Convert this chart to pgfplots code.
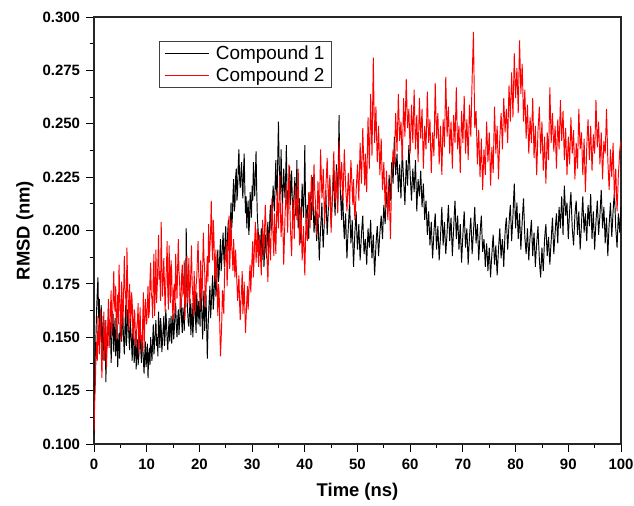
\documentclass[border=0pt]{standalone}
\usepackage{fontspec}
\setmainfont{Liberation Sans}
\usepackage{pgfplots}
\usepackage{pgfplotstable}
\pgfplotsset{compat=1.18}

\pgfplotstableread{
t c1 c2
0 0.104 0.106
0.125 0.128 0.119
0.25 0.142 0.128
0.375 0.151 0.141
0.5 0.163 0.148
0.625 0.171 0.139
0.75 0.178 0.160
0.875 0.159 0.151
1 0.168 0.142
1.125 0.149 0.157
1.25 0.158 0.163
1.375 0.165 0.144
1.5 0.141 0.131
1.625 0.152 0.146
1.75 0.160 0.152
1.875 0.139 0.162
2 0.147 0.139
2.125 0.158 0.149
2.25 0.129 0.158
2.375 0.143 0.136
2.5 0.155 0.147
2.625 0.146 0.157
2.75 0.164 0.168
2.875 0.152 0.145
3 0.149 0.151
3.125 0.157 0.163
3.25 0.138 0.172
3.375 0.147 0.152
3.5 0.156 0.158
3.625 0.161 0.168
3.75 0.143 0.181
3.875 0.151 0.166
4 0.159 0.162
4.125 0.141 0.174
4.25 0.147 0.149
4.375 0.156 0.161
4.5 0.136 0.170
4.625 0.145 0.156
4.75 0.152 0.184
4.875 0.140 0.171
5 0.161 0.160
5.125 0.153 0.148
5.25 0.148 0.176
5.375 0.162 0.167
5.5 0.157 0.155
5.625 0.149 0.171
5.75 0.142 0.188
5.875 0.155 0.173
6 0.165 0.170
6.125 0.146 0.159
6.25 0.151 0.192
6.375 0.163 0.176
6.5 0.158 0.163
6.625 0.150 0.153
6.75 0.144 0.175
6.875 0.159 0.164
7 0.153 0.157
7.125 0.147 0.171
7.25 0.139 0.167
7.375 0.155 0.152
7.5 0.150 0.149
7.625 0.138 0.163
7.75 0.144 0.161
7.875 0.153 0.147
8 0.135 0.146
8.125 0.143 0.155
8.25 0.149 0.158
8.375 0.137 0.166
8.5 0.141 0.142
8.625 0.150 0.154
8.75 0.152 0.164
8.875 0.144 0.148
9 0.138 0.151
9.125 0.151 0.143
9.25 0.146 0.159
9.375 0.139 0.171
9.5 0.133 0.145
9.625 0.142 0.155
9.75 0.148 0.168
9.875 0.136 0.161
10 0.140 0.156
10.125 0.147 0.165
10.25 0.131 0.174
10.375 0.141 0.159
10.5 0.145 0.162
10.625 0.137 0.177
10.75 0.150 0.185
10.875 0.144 0.170
11 0.139 0.168
11.125 0.148 0.159
11.25 0.156 0.179
11.375 0.142 0.189
11.5 0.147 0.160
11.625 0.153 0.172
11.75 0.158 0.191
11.875 0.146 0.166
12 0.150 0.174
12.125 0.141 0.185
12.25 0.162 0.198
12.375 0.153 0.177
12.5 0.145 0.181
12.625 0.159 0.167
12.75 0.155 0.204
12.875 0.143 0.184
13 0.148 0.169
13.125 0.154 0.178
13.25 0.160 0.187
13.375 0.146 0.174
13.5 0.151 0.162
13.625 0.163 0.175
13.75 0.157 0.183
13.875 0.149 0.195
14 0.144 0.171
14.125 0.152 0.163
14.25 0.159 0.193
14.375 0.148 0.179
14.5 0.153 0.166
14.625 0.160 0.186
14.75 0.147 0.180
14.875 0.156 0.165
15 0.161 0.158
15.125 0.149 0.172
15.25 0.154 0.175
15.375 0.162 0.161
15.5 0.166 0.189
15.625 0.155 0.178
15.75 0.150 0.168
15.875 0.158 0.183
16 0.163 0.196
16.125 0.151 0.181
16.25 0.157 0.176
16.375 0.165 0.163
16.5 0.169 0.165
16.625 0.158 0.179
16.75 0.152 0.184
16.875 0.164 0.170
17 0.160 0.171
17.125 0.153 0.186
17.25 0.172 0.158
17.375 0.164 0.169
17.5 0.201 0.179
17.625 0.175 0.188
17.75 0.163 0.166
17.875 0.157 0.174
18 0.155 0.187
18.125 0.162 0.165
18.25 0.168 0.172
18.375 0.151 0.181
18.5 0.158 0.193
18.625 0.166 0.175
18.75 0.150 0.169
18.875 0.157 0.160
19 0.164 0.181
19.125 0.170 0.171
19.25 0.159 0.162
19.375 0.152 0.174
19.5 0.171 0.178
19.625 0.163 0.187
19.75 0.156 0.195
19.875 0.167 0.180
20 0.162 0.174
20.125 0.155 0.163
20.25 0.176 0.186
20.375 0.167 0.176
20.5 0.158 0.167
20.625 0.149 0.183
20.75 0.166 0.199
20.875 0.172 0.187
21 0.153 0.182
21.125 0.161 0.164
21.25 0.170 0.171
21.375 0.156 0.180
21.5 0.140 0.188
21.625 0.153 0.176
21.75 0.161 0.203
21.875 0.168 0.185
22 0.174 0.192
22.125 0.159 0.199
22.25 0.165 0.214
22.375 0.172 0.195
22.5 0.179 0.186
22.625 0.163 0.205
22.75 0.168 0.198
22.875 0.177 0.183
23 0.184 0.176
23.125 0.169 0.191
23.25 0.173 0.182
23.375 0.186 0.170
23.5 0.191 0.160
23.625 0.176 0.175
23.75 0.180 0.171
23.875 0.189 0.155
24 0.196 0.141
24.125 0.181 0.149
24.25 0.186 0.158
24.375 0.193 0.172
24.5 0.199 0.168
24.625 0.188 0.161
24.75 0.183 0.177
24.875 0.195 0.189
25 0.202 0.186
25.125 0.187 0.195
25.25 0.190 0.174
25.375 0.199 0.183
25.5 0.205 0.199
25.625 0.191 0.207
25.75 0.194 0.182
25.875 0.203 0.192
26 0.213 0.205
26.125 0.201 0.193
26.25 0.206 0.188
26.375 0.217 0.181
26.5 0.224 0.196
26.625 0.209 0.186
26.75 0.212 0.178
26.875 0.225 0.191
27 0.229 0.183
27.125 0.214 0.175
27.25 0.218 0.167
27.375 0.231 0.173
27.5 0.238 0.179
27.625 0.224 0.166
27.75 0.220 0.158
27.875 0.227 0.167
28 0.232 0.172
28.125 0.221 0.181
28.25 0.215 0.161
28.375 0.228 0.167
28.5 0.236 0.176
28.625 0.219 0.163
28.75 0.208 0.152
28.875 0.216 0.160
29 0.201 0.168
29.125 0.209 0.174
29.25 0.214 0.163
29.375 0.198 0.170
29.5 0.203 0.179
29.625 0.218 0.184
29.75 0.212 0.171
29.875 0.206 0.180
30 0.221 0.188
30.125 0.214 0.195
30.25 0.232 0.178
30.375 0.223 0.187
30.5 0.216 0.196
30.625 0.227 0.204
30.75 0.237 0.185
30.875 0.219 0.192
31 0.206 0.201
31.125 0.201 0.189
31.25 0.196 0.183
31.375 0.191 0.198
31.5 0.188 0.194
31.625 0.195 0.186
31.75 0.201 0.179
31.875 0.186 0.193
32 0.192 0.205
32.125 0.197 0.196
32.25 0.183 0.188
32.375 0.190 0.201
32.5 0.198 0.212
32.625 0.192 0.203
32.75 0.187 0.191
32.875 0.199 0.184
33 0.204 0.176
33.125 0.191 0.190
33.25 0.196 0.199
33.375 0.207 0.193
33.5 0.212 0.186
33.625 0.200 0.202
33.75 0.205 0.215
33.875 0.214 0.205
34 0.221 0.196
34.125 0.212 0.188
34.25 0.209 0.208
34.375 0.222 0.200
34.5 0.233 0.189
34.625 0.219 0.203
34.75 0.216 0.219
34.875 0.235 0.209
35 0.251 0.201
35.125 0.232 0.216
35.25 0.225 0.226
35.375 0.217 0.209
35.5 0.238 0.197
35.625 0.222 0.205
35.75 0.211 0.213
35.875 0.219 0.198
36 0.229 0.184
36.125 0.221 0.195
36.25 0.215 0.207
36.375 0.226 0.214
36.5 0.240 0.222
36.625 0.219 0.210
36.75 0.208 0.199
36.875 0.217 0.215
37 0.224 0.231
37.125 0.230 0.217
37.25 0.212 0.203
37.375 0.220 0.195
37.5 0.228 0.188
37.625 0.215 0.201
37.75 0.205 0.214
37.875 0.213 0.207
38 0.219 0.196
38.125 0.225 0.209
38.25 0.207 0.221
38.375 0.216 0.212
38.5 0.233 0.205
38.625 0.211 0.216
38.75 0.201 0.229
38.875 0.209 0.208
39 0.215 0.193
39.125 0.204 0.201
39.25 0.194 0.211
39.375 0.211 0.198
39.5 0.222 0.186
39.625 0.213 0.193
39.75 0.206 0.202
39.875 0.219 0.190
40 0.240 0.179
40.125 0.216 0.194
40.25 0.203 0.208
40.375 0.208 0.199
40.5 0.212 0.195
40.625 0.204 0.207
40.75 0.196 0.218
40.875 0.209 0.212
41 0.218 0.201
41.125 0.211 0.214
41.25 0.205 0.226
41.375 0.214 0.217
41.5 0.225 0.209
41.625 0.209 0.220
41.75 0.199 0.231
41.875 0.204 0.219
42 0.211 0.214
42.125 0.202 0.206
42.25 0.195 0.198
42.375 0.201 0.211
42.5 0.208 0.223
42.625 0.197 0.214
42.75 0.186 0.206
42.875 0.194 0.222
43 0.201 0.238
43.125 0.207 0.226
43.25 0.213 0.215
43.375 0.199 0.220
43.5 0.192 0.229
43.625 0.200 0.216
43.75 0.206 0.203
43.875 0.213 0.212
44 0.219 0.221
44.125 0.207 0.227
44.25 0.198 0.234
44.375 0.205 0.222
44.5 0.212 0.211
44.625 0.218 0.218
44.75 0.224 0.226
44.875 0.211 0.209
45 0.203 0.199
45.125 0.209 0.211
45.25 0.216 0.219
45.375 0.221 0.228
45.5 0.228 0.237
45.625 0.214 0.225
45.75 0.207 0.213
45.875 0.219 0.220
46 0.231 0.228
46.125 0.220 0.216
46.25 0.212 0.208
46.375 0.233 0.224
46.5 0.254 0.242
46.625 0.228 0.230
46.75 0.218 0.219
46.875 0.211 0.226
47 0.205 0.232
47.125 0.219 0.222
47.25 0.213 0.214
47.375 0.202 0.226
47.5 0.196 0.238
47.625 0.203 0.229
47.75 0.208 0.221
47.875 0.195 0.215
48 0.187 0.209
48.125 0.195 0.218
48.25 0.201 0.227
48.375 0.207 0.219
48.5 0.214 0.212
48.625 0.203 0.222
48.75 0.194 0.233
48.875 0.199 0.226
49 0.205 0.218
49.125 0.193 0.212
49.25 0.183 0.224
49.375 0.191 0.213
49.5 0.199 0.205
49.625 0.204 0.211
49.75 0.209 0.219
49.875 0.198 0.225
50 0.191 0.231
50.125 0.197 0.222
50.25 0.203 0.214
50.375 0.194 0.228
50.5 0.186 0.241
50.625 0.192 0.231
50.75 0.198 0.222
50.875 0.203 0.235
51 0.207 0.248
51.125 0.197 0.237
51.25 0.189 0.228
51.375 0.193 0.221
51.5 0.196 0.236
51.625 0.190 0.226
51.75 0.184 0.218
51.875 0.193 0.237
52 0.201 0.253
52.125 0.196 0.240
52.25 0.192 0.229
52.375 0.199 0.247
52.5 0.205 0.264
52.625 0.194 0.248
52.75 0.187 0.235
52.875 0.193 0.258
53 0.198 0.281
53.125 0.188 0.259
53.25 0.179 0.241
53.375 0.186 0.249
53.5 0.193 0.258
53.625 0.198 0.244
53.75 0.202 0.232
53.875 0.195 0.240
54 0.188 0.249
54.125 0.194 0.237
54.25 0.199 0.226
54.375 0.203 0.235
54.5 0.207 0.243
54.625 0.201 0.230
54.75 0.196 0.219
54.875 0.205 0.226
55 0.212 0.232
55.125 0.207 0.221
55.25 0.203 0.211
55.375 0.211 0.220
55.5 0.218 0.228
55.625 0.213 0.216
55.75 0.209 0.205
55.875 0.217 0.213
56 0.226 0.221
56.125 0.219 0.208
56.25 0.214 0.196
56.375 0.224 0.211
56.5 0.232 0.225
56.625 0.227 0.231
56.75 0.222 0.238
56.875 0.233 0.234
57 0.244 0.231
57.125 0.234 0.244
57.25 0.226 0.255
57.375 0.231 0.246
57.5 0.236 0.237
57.625 0.227 0.250
57.75 0.218 0.264
57.875 0.225 0.253
58 0.231 0.242
58.125 0.222 0.247
58.25 0.215 0.251
58.375 0.227 0.241
58.5 0.238 0.233
58.625 0.230 0.247
58.75 0.224 0.262
58.875 0.218 0.252
59 0.212 0.244
59.125 0.223 0.258
59.25 0.233 0.271
59.375 0.227 0.259
59.5 0.221 0.248
59.625 0.231 0.252
59.75 0.240 0.257
59.875 0.233 0.246
60 0.226 0.236
60.125 0.220 0.248
60.25 0.214 0.259
60.375 0.222 0.250
60.5 0.229 0.241
60.625 0.223 0.254
60.75 0.218 0.266
60.875 0.226 0.252
61 0.233 0.238
61.125 0.221 0.246
61.25 0.209 0.254
61.375 0.217 0.243
61.5 0.224 0.232
61.625 0.220 0.247
61.75 0.216 0.262
61.875 0.222 0.252
62 0.228 0.243
62.125 0.219 0.250
62.25 0.211 0.257
62.375 0.217 0.243
62.5 0.222 0.229
62.625 0.213 0.239
62.75 0.205 0.249
62.875 0.210 0.243
63 0.214 0.238
63.125 0.206 0.251
63.25 0.198 0.265
63.375 0.204 0.253
63.5 0.209 0.241
63.625 0.201 0.247
63.75 0.193 0.252
63.875 0.199 0.239
64 0.204 0.227
64.125 0.195 0.237
64.25 0.187 0.246
64.375 0.193 0.241
64.5 0.199 0.235
64.625 0.204 0.252
64.75 0.208 0.269
64.875 0.199 0.256
65 0.191 0.243
65.125 0.197 0.249
65.25 0.202 0.255
65.375 0.194 0.243
65.5 0.186 0.231
65.625 0.192 0.240
65.75 0.197 0.249
65.875 0.204 0.238
66 0.211 0.226
66.125 0.202 0.239
66.25 0.193 0.252
66.375 0.199 0.246
66.5 0.204 0.239
66.625 0.196 0.256
66.75 0.189 0.272
66.875 0.194 0.258
67 0.199 0.244
67.125 0.206 0.251
67.25 0.212 0.258
67.375 0.203 0.247
67.5 0.195 0.236
67.625 0.201 0.244
67.75 0.206 0.251
67.875 0.197 0.240
68 0.188 0.229
68.125 0.195 0.242
68.25 0.201 0.254
68.375 0.208 0.248
68.5 0.214 0.241
68.625 0.205 0.254
68.75 0.196 0.267
68.875 0.202 0.252
69 0.207 0.238
69.125 0.199 0.244
69.25 0.191 0.249
69.375 0.197 0.238
69.5 0.203 0.227
69.625 0.194 0.242
69.75 0.185 0.256
69.875 0.192 0.249
70 0.198 0.241
70.125 0.204 0.252
70.25 0.209 0.263
70.375 0.200 0.250
70.5 0.192 0.236
70.625 0.197 0.244
70.75 0.201 0.252
70.875 0.193 0.243
71 0.184 0.233
71.125 0.191 0.246
71.25 0.197 0.259
71.375 0.202 0.252
71.5 0.206 0.244
71.625 0.198 0.257
71.75 0.189 0.271
71.875 0.194 0.282
72 0.199 0.293
72.125 0.205 0.270
72.25 0.211 0.248
72.375 0.202 0.252
72.5 0.194 0.256
72.625 0.199 0.244
72.75 0.203 0.231
72.875 0.195 0.239
73 0.186 0.247
73.125 0.192 0.236
73.25 0.198 0.225
73.375 0.203 0.234
73.5 0.207 0.243
73.625 0.198 0.231
73.75 0.190 0.219
73.875 0.193 0.229
74 0.196 0.238
74.125 0.190 0.232
74.25 0.183 0.226
74.375 0.189 0.239
74.5 0.194 0.251
74.625 0.188 0.242
74.75 0.181 0.232
74.875 0.187 0.239
75 0.192 0.246
75.125 0.185 0.234
75.25 0.178 0.221
75.375 0.184 0.230
75.5 0.189 0.239
75.625 0.194 0.233
75.75 0.198 0.227
75.875 0.191 0.243
76 0.184 0.258
76.125 0.189 0.247
76.25 0.193 0.236
76.375 0.186 0.243
76.5 0.179 0.249
76.625 0.185 0.237
76.75 0.191 0.224
76.875 0.196 0.234
77 0.201 0.243
77.125 0.194 0.249
77.25 0.187 0.255
77.375 0.192 0.247
77.5 0.196 0.238
77.625 0.190 0.250
77.75 0.183 0.262
77.875 0.191 0.254
78 0.199 0.246
78.125 0.203 0.252
78.25 0.206 0.257
78.375 0.198 0.249
78.5 0.191 0.241
78.625 0.197 0.255
78.75 0.203 0.268
78.875 0.208 0.260
79 0.212 0.251
79.125 0.204 0.263
79.25 0.195 0.274
79.375 0.201 0.264
79.5 0.207 0.253
79.625 0.215 0.268
79.75 0.222 0.283
79.875 0.211 0.272
80 0.201 0.262
80.125 0.207 0.269
80.25 0.213 0.276
80.375 0.204 0.266
80.5 0.196 0.255
80.625 0.202 0.272
80.75 0.208 0.289
80.875 0.199 0.277
81 0.191 0.264
81.125 0.198 0.271
81.25 0.204 0.278
81.375 0.210 0.265
81.5 0.215 0.251
81.625 0.206 0.258
81.75 0.197 0.266
81.875 0.193 0.254
82 0.189 0.243
82.125 0.195 0.251
82.25 0.201 0.259
82.375 0.193 0.248
82.5 0.186 0.236
82.625 0.192 0.244
82.75 0.197 0.253
82.875 0.201 0.247
83 0.205 0.241
83.125 0.196 0.252
83.25 0.188 0.262
83.375 0.194 0.248
83.5 0.199 0.234
83.625 0.191 0.241
83.75 0.183 0.249
83.875 0.189 0.237
84 0.194 0.226
84.125 0.198 0.236
84.25 0.202 0.247
84.375 0.194 0.252
84.5 0.187 0.258
84.625 0.182 0.247
84.75 0.178 0.236
84.875 0.185 0.243
85 0.192 0.251
85.125 0.186 0.239
85.25 0.181 0.228
85.375 0.189 0.236
85.5 0.196 0.244
85.625 0.200 0.233
85.75 0.203 0.222
85.875 0.195 0.234
86 0.188 0.246
86.125 0.193 0.239
86.25 0.197 0.233
86.375 0.190 0.250
86.5 0.184 0.267
86.625 0.190 0.254
86.75 0.195 0.241
86.875 0.201 0.248
87 0.206 0.255
87.125 0.197 0.246
87.25 0.189 0.237
87.375 0.194 0.243
87.5 0.199 0.249
87.625 0.204 0.239
87.75 0.208 0.229
87.875 0.201 0.241
88 0.194 0.252
88.125 0.203 0.245
88.25 0.211 0.238
88.375 0.206 0.249
88.5 0.201 0.261
88.625 0.209 0.251
88.75 0.216 0.242
88.875 0.207 0.249
89 0.198 0.256
89.125 0.210 0.244
89.25 0.221 0.233
89.375 0.214 0.241
89.5 0.207 0.248
89.625 0.210 0.237
89.75 0.213 0.226
89.875 0.204 0.235
90 0.196 0.244
90.125 0.203 0.237
90.25 0.209 0.231
90.375 0.214 0.242
90.5 0.218 0.253
90.625 0.209 0.244
90.75 0.201 0.236
90.875 0.197 0.241
91 0.193 0.247
91.125 0.200 0.235
91.25 0.207 0.224
91.375 0.211 0.232
91.5 0.214 0.241
91.625 0.206 0.235
91.75 0.198 0.229
91.875 0.204 0.243
92 0.209 0.257
92.125 0.200 0.247
92.25 0.191 0.238
92.375 0.197 0.242
92.5 0.203 0.246
92.625 0.210 0.236
92.75 0.216 0.226
92.875 0.207 0.234
93 0.199 0.243
93.125 0.204 0.230
93.25 0.208 0.218
93.375 0.201 0.228
93.5 0.195 0.239
93.625 0.204 0.246
93.75 0.212 0.252
93.875 0.207 0.242
94 0.202 0.233
94.125 0.210 0.241
94.25 0.217 0.249
94.375 0.206 0.238
94.5 0.196 0.228
94.625 0.203 0.236
94.75 0.209 0.245
94.875 0.200 0.240
95 0.191 0.236
95.125 0.198 0.248
95.25 0.204 0.261
95.375 0.209 0.250
95.5 0.214 0.239
95.625 0.206 0.245
95.75 0.198 0.251
95.875 0.203 0.241
96 0.207 0.231
96.125 0.213 0.238
96.25 0.219 0.246
96.375 0.210 0.235
96.5 0.201 0.224
96.625 0.206 0.233
96.75 0.211 0.242
96.875 0.203 0.239
97 0.194 0.236
97.125 0.200 0.246
97.25 0.206 0.257
97.375 0.197 0.245
97.5 0.188 0.233
97.625 0.196 0.226
97.75 0.203 0.219
97.875 0.208 0.228
98 0.213 0.238
98.125 0.205 0.231
98.25 0.197 0.225
98.375 0.203 0.233
98.5 0.209 0.241
98.625 0.214 0.228
98.75 0.218 0.215
98.875 0.210 0.222
99 0.201 0.229
99.125 0.197 0.219
99.25 0.192 0.209
99.375 0.200 0.217
99.5 0.208 0.226
99.625 0.204 0.231
99.75 0.199 0.237
99.875 0.205 0.240
100 0.211 0.242
}\rmsd

\begin{document}
\begin{tikzpicture}
\begin{axis}[
  width=527bp, height=427bp, scale only axis,
  xmin=0, xmax=100, ymin=0.1, ymax=0.3,
  xtick={0,10,...,100},
  ytick={0.1,0.125,0.15,0.175,0.2,0.225,0.25,0.275,0.3},
  minor x tick num=1, minor y tick num=1,
  xtick pos=bottom, ytick pos=left,
  tick align=outside,
  major tick length=7.5bp, minor tick length=4bp,
  every tick/.style={black, line width=0.9bp},
  axis line style={line width=1.1bp, black!85},
  yticklabel style={xshift=-3bp, /pgf/number format/.cd, fixed, fixed zerofill, precision=3},
  xticklabel style={yshift=-4bp},
  /pgf/number format/assume math mode=true,
  ticklabel style={font=\bfseries\fontsize{15}{17}\selectfont},
  xlabel={\bfseries Time (ns)},
  ylabel={\bfseries RMSD (nm)},
  label style={font=\bfseries\fontsize{18.5}{21}\selectfont},
  xlabel style={at={(axis description cs:0.5,-0.1124)}, anchor=center},
  ylabel style={at={(axis description cs:-0.131,0.5)}, anchor=center},
  legend style={at={(rel axis cs:0.123,0.944)}, anchor=north west,
    draw=black!75, line width=0.6bp, font=\fontsize{19}{22}\selectfont,
    inner xsep=5bp, inner ysep=3bp, row sep=2bp},
  legend cell align=left,
  legend image code/.code={\draw[#1, line width=0.8bp] (0bp,0bp) -- (44bp,0bp); \path (49bp,0bp);},
  clip=true,
]
\addplot[black, line width=0.95bp] table[x=t, y=c1] {\rmsd};
\addlegendentry{Compound 1}
\addplot[red, line width=0.95bp] table[x=t, y=c2] {\rmsd};
\addlegendentry{Compound 2}
\end{axis}
\pgfresetboundingbox
\path (current axis.south west) ++(-94bp,-62bp) rectangle ([shift={(13bp,17bp)}]current axis.north east);
\end{tikzpicture}
\end{document}
